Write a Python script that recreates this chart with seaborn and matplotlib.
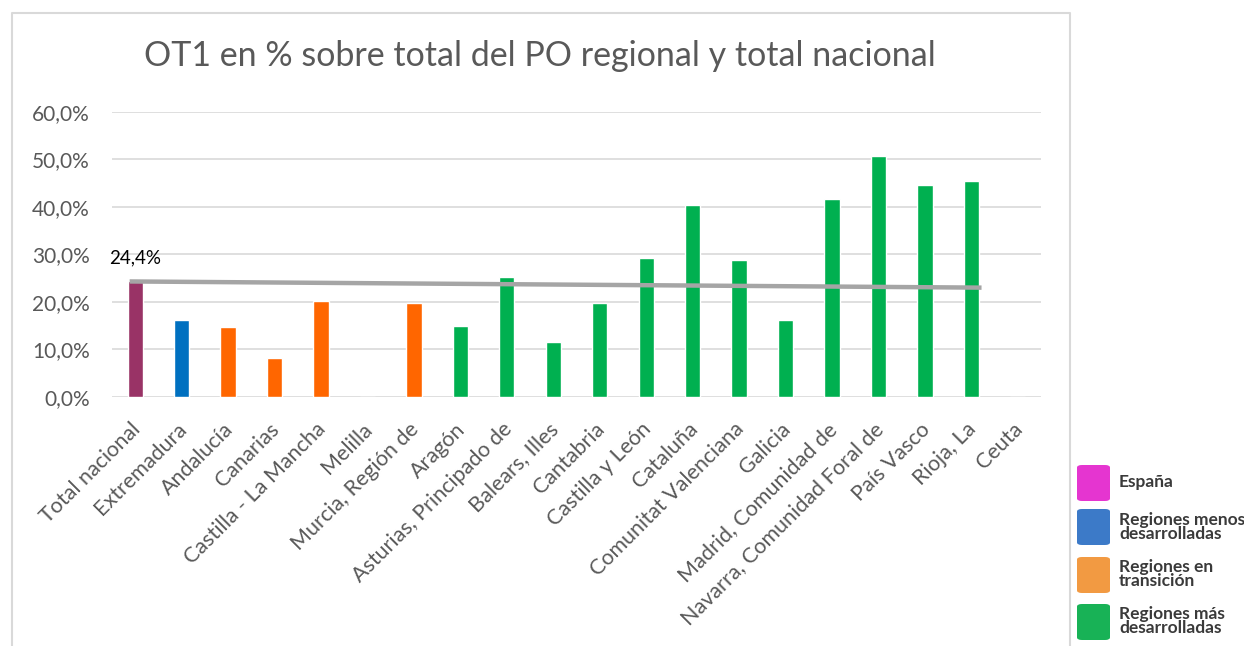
import numpy as np
import pandas as pd
import seaborn as sns
import matplotlib.pyplot as plt
import matplotlib.transforms as mtransforms
from matplotlib.patches import FancyBboxPatch
from matplotlib.lines import Line2D

regiones = ['Total nacional', 'Extremadura', 'Andalucía', 'Canarias', 'Castilla - La Mancha',
            'Melilla', 'Murcia, Región de', 'Aragón', 'Asturias, Principado de', 'Balears, Illes',
            'Cantabria', 'Castilla y León', 'Cataluña', 'Comunitat Valenciana', 'Galicia',
            'Madrid, Comunidad de', 'Navarra, Comunidad Foral de', 'País Vasco', 'Rioja, La', 'Ceuta']
porcentajes = [24.4, 16.1, 14.7, 8.1, 20.1, 0.0, 19.7, 14.9, 25.2, 11.5,
               19.7, 29.2, 40.4, 28.8, 16.1, 41.6, 50.7, 44.6, 45.4, 0.0]
grupo = ['España', 'menos', 'transicion', 'transicion', 'transicion',
         'transicion', 'transicion', 'mas', 'mas', 'mas',
         'mas', 'mas', 'mas', 'mas', 'mas',
         'mas', 'mas', 'mas', 'mas', 'mas']
# linea de referencia (tendencia) entre Total nacional y Rioja, La
linea_x = ['Total nacional', 'Rioja, La']
linea_y = [24.3, 23.0]
etiqueta_total = '24,4%'

colores_grupo = {'España': '#993366', 'menos': '#0070C0', 'transicion': '#FF6600', 'mas': '#00B050'}
leyenda_txt = ['España', 'Regiones menos\ndesarrolladas', 'Regiones en\ntransición', 'Regiones más\ndesarrolladas']
leyenda_col = ['#E535D0', '#3C7AC8', '#F29A42', '#18B256']

df = pd.DataFrame({'region': regiones, 'valor': porcentajes, 'grupo': grupo})

sns.set_style('white')
plt.rcParams['font.family'] = ['Lato', 'DejaVu Sans']

fig = plt.figure(figsize=(12.44, 6.46), dpi=100)
W, H = 1244, 646
ax = fig.add_axes([112 / W, 1 - 397 / H, (1041 - 112) / W, (397 - 111.7) / H])

sns.barplot(data=df, x='region', y='valor', hue='grupo', palette=colores_grupo,
            dodge=False, width=0.33, legend=False, ax=ax, saturation=1)

xi = [regiones.index(r) for r in linea_x]
# la linea de Excel sobresale un poco por los extremos
ax.plot([xi[0] - 0.12, xi[1] + 0.22], linea_y, color='#A5A5A5', lw=3.2,
        solid_capstyle='butt', zorder=5)
ax.annotate(etiqueta_total, xy=(0, linea_y[0]), xytext=(0, 17), textcoords='offset points',
            ha='center', va='center', fontsize=13.5, color='#000000')

ax.set_ylim(0, 60)
ax.set_xlim(-0.5, len(regiones) - 0.5)
ax.set_yticks(np.arange(0, 61, 10))
ax.set_yticklabels([f'{v:.1f}%'.replace('.', ',') for v in np.arange(0, 61, 10)],
                   fontsize=15, color='#595959')
ax.yaxis.grid(True, color='#D9D9D9', lw=1.2)
ax.set_axisbelow(True)
ax.tick_params(axis='y', length=0, pad=16)
ax.tick_params(axis='x', length=0, pad=21)
shift = mtransforms.ScaledTranslation(2 / 100, 0, fig.dpi_scale_trans)
for lab in ax.get_xticklabels():
    lab.set_rotation(45)
    lab.set_ha('right')
    lab.set_va('center')
    lab.set_rotation_mode('anchor')
    lab.set_fontsize(15.5)
    lab.set_color('#595959')
    lab.set_transform(lab.get_transform() + shift)
ax.set_xlabel('')
ax.set_ylabel('')
for s in ax.spines.values():
    s.set_visible(False)

fig.text(540 / W, 1 - 56 / H, 'OT1 en % sobre total del PO regional y total nacional',
         ha='center', va='center', fontsize=24.5, color='#595959')

# borde del grafico
bx = [12 / W, 12 / W, 1070 / W, 1070 / W]
by = [0, 1 - 12.5 / H, 1 - 12.5 / H, 0]
fig.add_artist(Line2D(bx, by, color='#D9D9D9', lw=1.5, transform=fig.transFigure))

# leyenda
ys_cuad = [483, 527, 575, 622]
ys_txt = [482, 527, 574, 621]
for yc, yt, t, c in zip(ys_cuad, ys_txt, leyenda_txt, leyenda_col):
    fig.add_artist(FancyBboxPatch((1077 / W, 1 - (yc + 18) / H), 33 / W, 36 / H,
                                  boxstyle='round,pad=0,rounding_size=0.004',
                                  transform=fig.transFigure, facecolor=c, edgecolor='none'))
    fig.text(1119 / W, 1 - yt / H, t, ha='left', va='center', fontsize=12.5,
             fontweight='bold', color='#3A3A3A', linespacing=0.78)

fig.savefig('out.png', dpi=100)
